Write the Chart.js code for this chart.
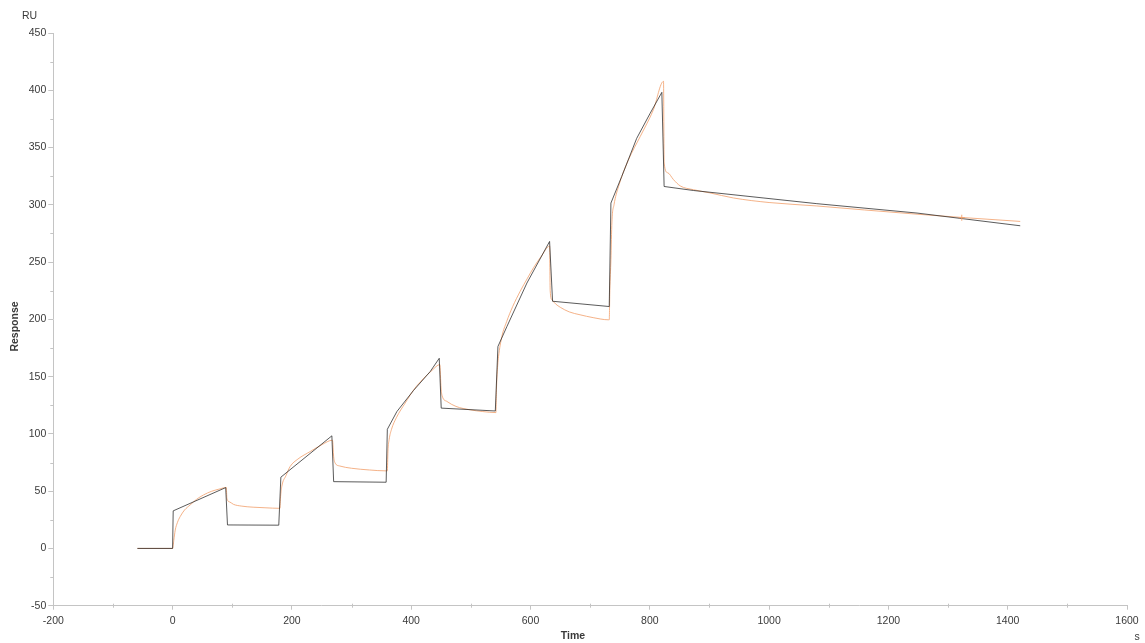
<!DOCTYPE html>
<html>
<head>
<meta charset="utf-8">
<script src="https://cdn.jsdelivr.net/npm/chart.js@4.4.1/dist/chart.umd.min.js"></script>
<style>
  html, body { margin: 0; padding: 0; background: #ffffff; }
  #wrap { width: 1145px; height: 643px; position: relative; }
</style>
</head>
<body>
<div id="wrap"><canvas id="c" width="1145" height="643"></canvas></div>
<script>
// Measured sensorgram (single-cycle kinetics), time in s, response in RU
const sensorTime = [-59, 0, 1, 89, 92, 178, 181.5, 267, 270, 358, 360, 376, 404, 432, 447, 450.3, 541,
  545.4, 560.5, 594, 632, 637, 732, 734.8, 753, 778, 800.7, 820.2, 824, 873, 1080, 1248, 1421];
const sensorResp = [0, 0, 32.8, 53.1, 20.5, 20.3, 62.2, 98.3, 58.3, 57.8, 104, 119.5, 138, 154.5, 166, 122.5, 120,
  176.3, 193.8, 231.7, 268, 215.8, 211.2, 301.5, 324.8, 358, 380, 398.2, 316, 312.5, 301, 292.8, 281.7];

// Kinetic model fit
const fitTime = [-59, 0, 2, 4.4, 8, 12.7, 20, 29.5, 40, 51.8, 65, 78, 90,
  91, 96, 102, 115, 135, 155, 180,
  181, 183, 190, 197, 210, 230.7, 250, 268,
  270, 272.6, 280, 300, 330, 358,
  360, 361, 363, 367, 375, 390, 405, 420, 435, 448,
  450, 452, 460, 475, 499, 520, 542,
  543, 545, 546.4, 552, 560, 570, 582.7, 595, 605, 618, 632,
  633, 636, 642, 650, 665, 683, 705, 731,
  732, 733, 734.8, 736.5, 740, 747.6, 764, 784, 806, 823,
  824, 830, 839.7, 851, 873, 900, 940, 1000, 1080, 1160, 1248, 1330, 1421];
const fitResp = [0, 0, 7, 16, 22.5, 27.8, 33.5, 38, 42.8, 46.7, 49.8, 51.8, 53.2,
  43.8, 40.5, 38.5, 37, 36, 35.5, 35,
  45, 54, 63.5, 71.5, 78, 84.6, 90.5, 94.5,
  80, 74.4, 72, 70, 68.5, 67.7,
  67.7, 85, 95, 104, 114, 127, 139, 148, 155.5, 160.5,
  140, 133, 128.3, 124, 121, 119.5, 118.6,
  140, 160, 167.5, 185, 198, 211, 224.5, 236, 245, 255, 264,
  225, 217, 213.5, 210.5, 206.5, 204, 201.5, 199.6,
  199.6, 225, 252, 285, 300, 316, 339, 359.7, 383, 407.8,
  336.5, 328, 322, 316.5, 313.2, 310.5, 306, 302, 299, 295.5, 291.8, 288.7, 285.5];

// Cursor mark on the fit curve
const cursorTime = [1323];
const cursorResp = [288.7];

// Axis ranges and tick steps
const xRange = [-200, 1600];
const xStep = 200;
const yRange = [-50, 450];
const yStep = 50;

const pairs = (xs, ys) => xs.map((x, i) => ({ x: x, y: ys[i] }));

const FONT = "'Liberation Sans', Arial, sans-serif";
const AXIS_COLOR = '#c4c4c4';
const TEXT_COLOR = '#3a3a3a';
const SENSOR_COLOR = 'rgba(40,40,40,0.85)';
const FIT_COLOR = 'rgba(242,160,108,0.9)';

// Minor ticks halfway between labelled ticks, plus unit / axis captions
const axisDecor = {
  id: 'axisDecor',
  afterDraw(chart) {
    const ctx = chart.ctx;
    const xs = chart.scales.x, ys = chart.scales.y;
    ctx.save();
    ctx.strokeStyle = AXIS_COLOR;
    ctx.lineWidth = 1;
    ctx.beginPath();
    for (let v = yRange[0] + yStep / 2; v < yRange[1]; v += yStep) {
      const py = Math.round(ys.getPixelForValue(v)) + 0.5;
      ctx.moveTo(xs.left - 3, py);
      ctx.lineTo(xs.left, py);
    }
    for (let v = xRange[0] + xStep / 2; v < xRange[1]; v += xStep) {
      const px = Math.round(xs.getPixelForValue(v)) + 0.5;
      ctx.moveTo(px, ys.bottom - 2);
      ctx.lineTo(px, ys.bottom + 2);
    }
    ctx.stroke();

    ctx.fillStyle = TEXT_COLOR;
    ctx.textBaseline = 'middle';
    ctx.textAlign = 'center';
    ctx.font = '10.5px ' + FONT;
    ctx.fillText('RU', 29.5, 16.5);
    ctx.fillText('s', 1137, 637);
    ctx.font = 'bold 10.5px ' + FONT;
    ctx.fillText('Time', 573, 636);
    ctx.translate(15, 326.5);
    ctx.rotate(-Math.PI / 2);
    ctx.fillText('Response', 0, 0);
    ctx.restore();
  }
};

new Chart(document.getElementById('c'), {
  type: 'line',
  data: {
    datasets: [
      {
        label: 'Sensorgram',
        data: pairs(sensorTime, sensorResp),
        borderColor: SENSOR_COLOR,
        borderWidth: 0.9,
        pointRadius: 0,
        tension: 0,
        order: 1
      },
      {
        label: 'Fit',
        data: pairs(fitTime, fitResp),
        borderColor: FIT_COLOR,
        borderWidth: 0.9,
        pointRadius: 0,
        cubicInterpolationMode: 'monotone',
        order: 2
      },
      {
        label: 'Cursor',
        data: pairs(cursorTime, cursorResp),
        showLine: false,
        pointStyle: 'cross',
        pointRadius: 3,
        borderColor: FIT_COLOR,
        borderWidth: 1,
        order: 0
      }
    ]
  },
  options: {
    responsive: false,
    animation: false,
    layout: { padding: { top: 33, right: 18, left: 0, bottom: 0 } },
    plugins: { legend: { display: false }, tooltip: { enabled: false } },
    scales: {
      x: {
        type: 'linear',
        min: xRange[0],
        max: xRange[1],
        afterFit(scale) { scale.height = 37.3; },
        ticks: {
          stepSize: xStep,
          color: TEXT_COLOR,
          padding: 5,
          maxRotation: 0,
          callback: (v) => String(v),
          font: { family: FONT, size: 10.5 }
        },
        grid: { drawOnChartArea: false, drawTicks: true, tickLength: 4, tickColor: AXIS_COLOR },
        border: { color: AXIS_COLOR, width: 1 }
      },
      y: {
        type: 'linear',
        min: yRange[0],
        max: yRange[1],
        afterFit(scale) { scale.width = 53.3; },
        ticks: {
          stepSize: yStep,
          color: TEXT_COLOR,
          padding: 2,
          callback: (v) => String(v),
          font: { family: FONT, size: 10.5 }
        },
        grid: { drawOnChartArea: false, drawTicks: true, tickLength: 5, tickColor: AXIS_COLOR },
        border: { color: AXIS_COLOR, width: 1 }
      }
    }
  },
  plugins: [axisDecor]
});
</script>
</body>
</html>
